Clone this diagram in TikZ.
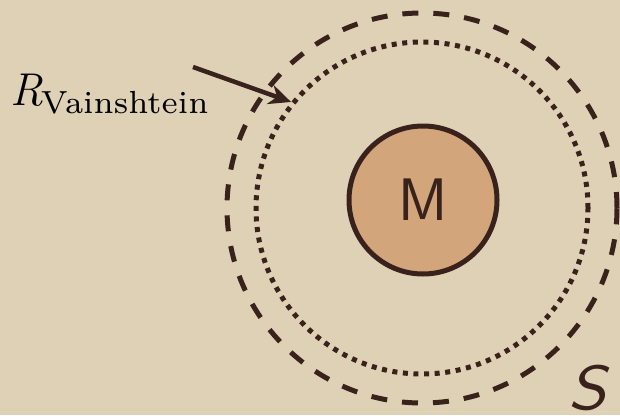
\documentclass[tikz,border=0pt]{standalone}
\usepackage{fontspec}
\usetikzlibrary{arrows.meta}
\newfontfamily\lmseven{lmroman7-regular.otf}
\newfontfamily\sflabel{lmsans10-oblique.otf}[FakeStretch=1.1]
\definecolor{paper}{RGB}{222,209,182}
\definecolor{ink}{RGB}{58,34,28}
\definecolor{massfill}{RGB}{210,166,122}
\begin{document}
\begin{tikzpicture}[x=1pt,y=-1pt,
  dashring/.style={circle,draw=ink,line width=5pt,dash pattern=on 16pt off 15pt,minimum size=390pt,inner sep=0pt},
  dotring/.style={circle,draw=ink,line width=5pt,dash pattern=on 5pt off 5.6pt,minimum size=332pt,inner sep=0pt},
  massbody/.style={circle,draw=ink,line width=5pt,fill=massfill,minimum size=148pt,inner sep=0pt,
    font=\sffamily\fontsize{60}{62}\selectfont,text=ink},
  lbl/.style={anchor=base west,inner sep=0pt,font=\fontsize{46}{50}\selectfont,text=black},
  pointer/.style={draw=ink,line width=4.5pt,-{Stealth[length=22pt,width=20pt]}}]
\fill[paper] (0,0) rectangle (620,415);
\useasboundingbox (0,0) rectangle (620,415);
\node[dashring] (S) at (422,208) {};
\node[dotring] (V) at (422,208) {};
\node[massbody] (M) at (423,200) {M};
\node[lbl] (L) at (10,105) {\textit{R}\kern-2pt\raisebox{-8pt}{\lmseven\fontsize{32}{34}\selectfont Vainshtein}};
\node[anchor=base east,inner sep=0pt,font=\sflabel\fontsize{62}{64}\selectfont,text=ink] (SL) at (607,409) {S};
\coordinate (a0) at (193,67);
\draw[pointer] (a0) -- (V.141);
\end{tikzpicture}
\end{document}
